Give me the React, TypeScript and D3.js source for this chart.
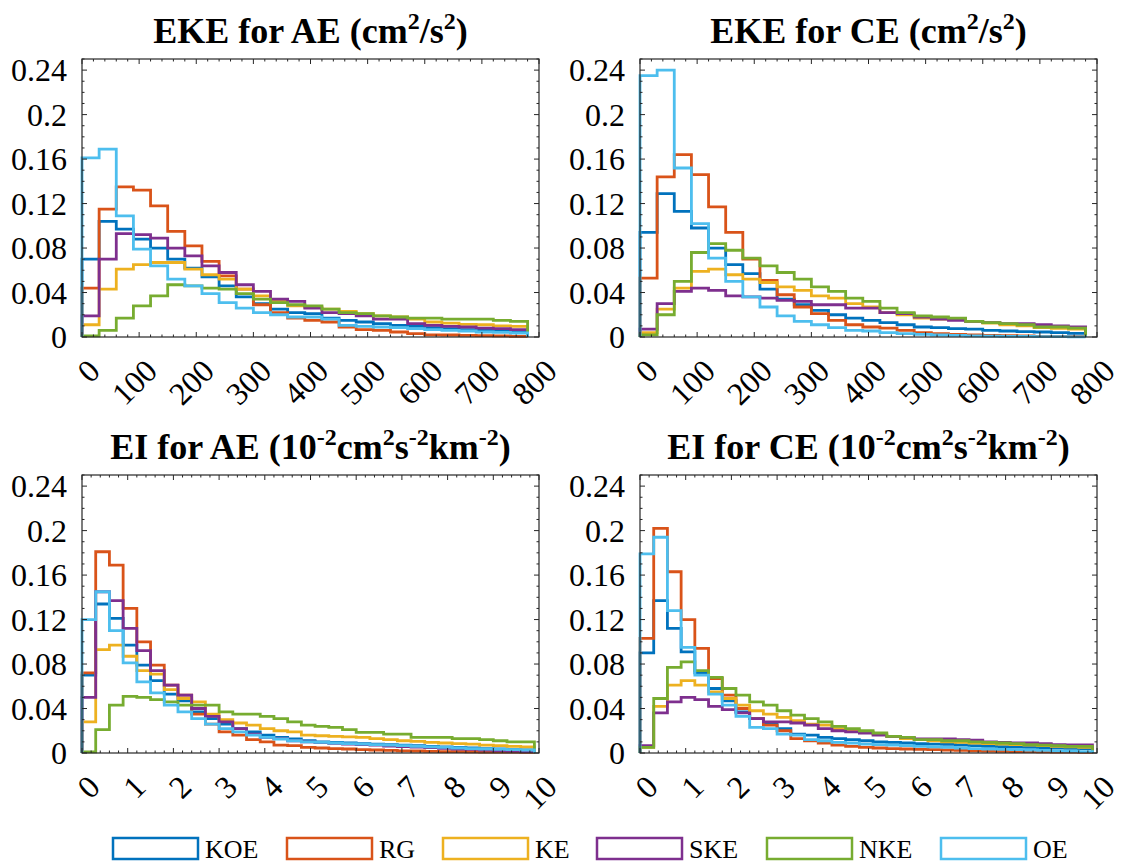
import React from 'react';
import * as d3 from 'd3';

const seriesNames = ['KOE', 'RG', 'KE', 'SKE', 'NKE', 'OE'];
const seriesColors = ['#0072BD', '#D95319', '#EDB120', '#7E2F8E', '#77AC30', '#4DBEEE'];

const ekeBinWidth = 30;
const eiBinWidth = 0.3;
const ekeXTicks = [0, 100, 200, 300, 400, 500, 600, 700, 800];
const eiXTicks = [0, 1, 2, 3, 4, 5, 6, 7, 8, 9, 10];
const yTicks = [0, 0.04, 0.08, 0.12, 0.16, 0.2, 0.24];
const yTickLabels = ['0', '0.04', '0.08', '0.12', '0.16', '0.2', '0.24'];

// EKE for AE (bins of 30 cm^2/s^2)
const ekeAE_KOE = [0.070, 0.104, 0.097, 0.088, 0.080, 0.070, 0.062, 0.054, 0.046, 0.036, 0.030, 0.025, 0.022, 0.021, 0.017, 0.015, 0.0135, 0.012, 0.0105, 0.0096, 0.0084, 0.0075, 0.0066, 0.006, 0.0054, 0.0045];
const ekeAE_RG = [0.044, 0.115, 0.135, 0.132, 0.118, 0.095, 0.082, 0.068, 0.055, 0.043, 0.029, 0.022, 0.017, 0.015, 0.0135, 0.009, 0.0066, 0.006, 0.0045, 0.003, 0.002, 0.0018, 0.0015, 0.0012, 0.001, 0.0006];
const ekeAE_KE = [0.011, 0.043, 0.061, 0.065, 0.067, 0.067, 0.061, 0.056, 0.052, 0.043, 0.037, 0.032, 0.028, 0.027, 0.025, 0.023, 0.021, 0.019, 0.018, 0.016, 0.0135, 0.0125, 0.0114, 0.011, 0.010, 0.0096];
const ekeAE_SKE = [0.019, 0.070, 0.093, 0.092, 0.089, 0.080, 0.073, 0.064, 0.058, 0.047, 0.041, 0.034, 0.032, 0.026, 0.022, 0.021, 0.019, 0.016, 0.016, 0.012, 0.0105, 0.0096, 0.009, 0.008, 0.0075, 0.0066];
const ekeAE_NKE = [0.001, 0.006, 0.017, 0.028, 0.037, 0.047, 0.046, 0.044, 0.043, 0.039, 0.034, 0.031, 0.029, 0.028, 0.025, 0.022, 0.021, 0.019, 0.018, 0.017, 0.017, 0.016, 0.016, 0.016, 0.015, 0.014];
const ekeAE_OE = [0.161, 0.169, 0.109, 0.079, 0.064, 0.052, 0.046, 0.039, 0.031, 0.026, 0.022, 0.020, 0.018, 0.018, 0.016, 0.0105, 0.0096, 0.009, 0.0084, 0.0075, 0.0066, 0.006, 0.0054, 0.0045, 0.0042, 0.0036];

// EKE for CE
const ekeCE_KOE = [0.094, 0.129, 0.113, 0.098, 0.080, 0.065, 0.057, 0.043, 0.034, 0.029, 0.024, 0.020, 0.017, 0.015, 0.013, 0.011, 0.009, 0.0084, 0.0075, 0.007, 0.006, 0.0054, 0.0048, 0.0045, 0.004, 0.0033];
const ekeCE_RG = [0.053, 0.144, 0.164, 0.146, 0.117, 0.094, 0.070, 0.051, 0.038, 0.027, 0.021, 0.015, 0.011, 0.009, 0.008, 0.006, 0.004, 0.003, 0.0024, 0.0018, 0.0015, 0.0012, 0.001, 0.0006, 0.0006, 0.0003];
const ekeCE_KE = [0.004, 0.025, 0.044, 0.059, 0.061, 0.056, 0.052, 0.049, 0.045, 0.042, 0.037, 0.035, 0.030, 0.027, 0.022, 0.020, 0.017, 0.016, 0.016, 0.014, 0.0126, 0.011, 0.010, 0.0084, 0.0078, 0.007];
const ekeCE_SKE = [0.007, 0.030, 0.041, 0.044, 0.042, 0.037, 0.036, 0.035, 0.033, 0.032, 0.029, 0.029, 0.026, 0.026, 0.022, 0.021, 0.018, 0.016, 0.015, 0.014, 0.013, 0.012, 0.012, 0.011, 0.010, 0.009];
const ekeCE_NKE = [0.002, 0.020, 0.050, 0.076, 0.084, 0.078, 0.071, 0.064, 0.058, 0.052, 0.045, 0.041, 0.035, 0.032, 0.026, 0.022, 0.019, 0.018, 0.017, 0.014, 0.013, 0.012, 0.011, 0.009, 0.009, 0.008];
const ekeCE_OE = [0.235, 0.240, 0.152, 0.102, 0.071, 0.050, 0.036, 0.027, 0.019, 0.014, 0.011, 0.0084, 0.006, 0.0054, 0.004, 0.003, 0.0024, 0.0018, 0.0015, 0.001, 0.0008, 0.0006, 0.0005, 0.0004, 0.0003, 0.0002];

// EI for AE (bins of 0.3)
const eiAE_KOE = [0.070, 0.134, 0.121, 0.097, 0.079, 0.065, 0.053, 0.047, 0.037, 0.031, 0.026, 0.022, 0.019, 0.016, 0.014, 0.0126, 0.011, 0.010, 0.0096, 0.009, 0.0084, 0.008, 0.0075, 0.007, 0.0066, 0.006, 0.0055, 0.005, 0.0045, 0.004, 0.0036, 0.003, 0.0027];
const eiAE_RG = [0.072, 0.181, 0.169, 0.130, 0.100, 0.079, 0.061, 0.052, 0.035, 0.026, 0.019, 0.016, 0.012, 0.010, 0.007, 0.0066, 0.005, 0.0045, 0.004, 0.0036, 0.003, 0.0027, 0.0024, 0.002, 0.0018, 0.0015, 0.0013, 0.0012, 0.001, 0.0009, 0.0008, 0.0007, 0.0006];
const eiAE_KE = [0.028, 0.093, 0.097, 0.087, 0.074, 0.071, 0.057, 0.049, 0.046, 0.035, 0.030, 0.027, 0.025, 0.022, 0.020, 0.019, 0.016, 0.0155, 0.015, 0.0145, 0.014, 0.013, 0.012, 0.011, 0.0105, 0.0096, 0.009, 0.0084, 0.008, 0.007, 0.0066, 0.006, 0.0054];
const eiAE_SKE = [0.050, 0.145, 0.137, 0.112, 0.092, 0.074, 0.061, 0.052, 0.040, 0.033, 0.028, 0.022, 0.017, 0.014, 0.013, 0.011, 0.010, 0.0093, 0.0087, 0.008, 0.0075, 0.007, 0.0063, 0.0057, 0.0052, 0.0048, 0.0042, 0.0036, 0.0032, 0.0027, 0.0022, 0.0018, 0.0012];
const eiAE_NKE = [0.001, 0.021, 0.043, 0.051, 0.050, 0.048, 0.046, 0.043, 0.043, 0.043, 0.037, 0.035, 0.035, 0.033, 0.031, 0.028, 0.025, 0.024, 0.023, 0.021, 0.0186, 0.0186, 0.017, 0.017, 0.014, 0.014, 0.014, 0.013, 0.013, 0.012, 0.011, 0.010, 0.010];
const eiAE_OE = [0.120, 0.145, 0.110, 0.081, 0.064, 0.054, 0.043, 0.037, 0.031, 0.026, 0.022, 0.019, 0.016, 0.014, 0.0126, 0.011, 0.010, 0.0096, 0.009, 0.0084, 0.008, 0.0075, 0.007, 0.0066, 0.006, 0.0055, 0.005, 0.0045, 0.004, 0.0036, 0.0033, 0.003, 0.0027];

// EI for CE
const eiCE_KOE = [0.090, 0.137, 0.112, 0.091, 0.072, 0.058, 0.047, 0.037, 0.031, 0.026, 0.022, 0.017, 0.016, 0.014, 0.013, 0.012, 0.011, 0.010, 0.0096, 0.009, 0.0084, 0.008, 0.0078, 0.0072, 0.0066, 0.006, 0.0057, 0.0054, 0.005, 0.0048, 0.0045, 0.0042, 0.004];
const eiCE_RG = [0.103, 0.202, 0.163, 0.120, 0.094, 0.067, 0.052, 0.040, 0.031, 0.025, 0.020, 0.013, 0.011, 0.009, 0.007, 0.006, 0.005, 0.0045, 0.004, 0.0036, 0.0033, 0.003, 0.0027, 0.0024, 0.002, 0.0018, 0.0015, 0.0013, 0.0012, 0.001, 0.0009, 0.0008, 0.0006];
const eiCE_KE = [0.005, 0.042, 0.061, 0.065, 0.061, 0.055, 0.049, 0.043, 0.038, 0.035, 0.032, 0.029, 0.026, 0.025, 0.022, 0.020, 0.019, 0.017, 0.015, 0.013, 0.012, 0.011, 0.010, 0.0096, 0.009, 0.0084, 0.008, 0.0075, 0.007, 0.0066, 0.006, 0.0055, 0.005];
const eiCE_SKE = [0.0066, 0.036, 0.046, 0.050, 0.048, 0.042, 0.039, 0.036, 0.031, 0.028, 0.028, 0.027, 0.025, 0.022, 0.020, 0.019, 0.018, 0.016, 0.015, 0.014, 0.0126, 0.0126, 0.0126, 0.012, 0.0115, 0.010, 0.0096, 0.009, 0.009, 0.0084, 0.0075, 0.0072, 0.0072];
const eiCE_NKE = [0.005, 0.049, 0.077, 0.082, 0.074, 0.068, 0.058, 0.052, 0.046, 0.043, 0.038, 0.034, 0.031, 0.028, 0.024, 0.022, 0.020, 0.018, 0.015, 0.014, 0.012, 0.012, 0.011, 0.011, 0.010, 0.0096, 0.009, 0.0084, 0.0075, 0.007, 0.0066, 0.006, 0.006];
const eiCE_OE = [0.179, 0.194, 0.128, 0.095, 0.070, 0.053, 0.043, 0.033, 0.023, 0.022, 0.017, 0.016, 0.012, 0.011, 0.0096, 0.009, 0.008, 0.0075, 0.007, 0.0066, 0.006, 0.0055, 0.005, 0.0045, 0.004, 0.0036, 0.0033, 0.003, 0.0027, 0.0024, 0.002, 0.0016, 0.0012];

const FONT = "'Liberation Serif', 'Times New Roman', Times, serif";
const AX = '#262626';

type TitlePart = { t: string; sup?: boolean };

const titleEkeAE: TitlePart[] = [{ t: 'EKE for AE (cm' }, { t: '2', sup: true }, { t: '/s' }, { t: '2', sup: true }, { t: ')' }];
const titleEkeCE: TitlePart[] = [{ t: 'EKE for CE (cm' }, { t: '2', sup: true }, { t: '/s' }, { t: '2', sup: true }, { t: ')' }];
const titleEiAE: TitlePart[] = [{ t: 'EI for AE (10' }, { t: '-2', sup: true }, { t: 'cm' }, { t: '2', sup: true }, { t: 's' }, { t: '-2', sup: true }, { t: 'km' }, { t: '-2', sup: true }, { t: ')' }];
const titleEiCE: TitlePart[] = [{ t: 'EI for CE (10' }, { t: '-2', sup: true }, { t: 'cm' }, { t: '2', sup: true }, { t: 's' }, { t: '-2', sup: true }, { t: 'km' }, { t: '-2', sup: true }, { t: ')' }];

type PanelProps = {
  left: number; top: number; width: number; height: number;
  xMax: number; xTicks: number[]; xMinor: number; binWidth: number;
  series: number[][]; title: TitlePart[];
};

function Title({ parts, x, y }: { parts: TitlePart[]; x: number; y: number }) {
  const supShift = 14;
  let up = false;
  return (
    <text x={x} y={y} textAnchor="middle" fontFamily={FONT} fontWeight="bold" fontSize={36} fill="#000">
      {parts.map((p, i) => {
        let dy = 0;
        if (p.sup && !up) { dy = -supShift; up = true; }
        else if (!p.sup && up) { dy = supShift; up = false; }
        return (
          <tspan key={i} dy={dy} fontSize={p.sup ? 24 : 36}>{p.t}</tspan>
        );
      })}
    </text>
  );
}

function Panel({ left, top, width, height, xMax, xTicks, xMinor, binWidth, series, title }: PanelProps) {
  const x = d3.scaleLinear().domain([0, xMax]).range([left, left + width]);
  const y = d3.scaleLinear().domain([0, 0.25]).range([top + height, top]);
  const line = d3.line<[number, number]>().x(d => x(d[0])).y(d => y(d[1]));

  const stairs = (vals: number[]) => {
    const pts: [number, number][] = [[0, 0]];
    vals.forEach((v, i) => {
      pts.push([i * binWidth, v]);
      pts.push([(i + 1) * binWidth, v]);
    });
    pts.push([vals.length * binWidth, 0]);
    return line(pts) || '';
  };

  const xMinorTicks = d3.range(0, xMax + 1e-9, xMinor).filter(v => !xTicks.some(t => Math.abs(t - v) < 1e-9));
  const yMinorTicks = d3.range(0, 0.25 + 1e-9, 0.01).filter(v => !yTicks.some(t => Math.abs(t - v) < 1e-9));
  const bottom = top + height;
  const right = left + width;
  const maj = 5, mnr = 2.5;

  return (
    <g>
      <Title parts={title} x={left + width / 2} y={top - 16} />
      {series.map((vals, i) => (
        <path key={seriesNames[i]} d={stairs(vals)} fill="none" stroke={seriesColors[i]} strokeWidth={2.8} />
      ))}
      <rect x={left} y={top} width={width} height={height} fill="none" stroke={AX} strokeWidth={1.2} />
      {xTicks.map(t => (
        <g key={'xt' + t}>
          <line x1={x(t)} x2={x(t)} y1={bottom} y2={bottom - maj} stroke={AX} />
          <line x1={x(t)} x2={x(t)} y1={top} y2={top + maj} stroke={AX} />
        </g>
      ))}
      {xMinorTicks.map(t => (
        <g key={'xm' + t}>
          <line x1={x(t)} x2={x(t)} y1={bottom} y2={bottom - mnr} stroke={AX} />
          <line x1={x(t)} x2={x(t)} y1={top} y2={top + mnr} stroke={AX} />
        </g>
      ))}
      {yTicks.map(t => (
        <g key={'yt' + t}>
          <line x1={left} x2={left + maj} y1={y(t)} y2={y(t)} stroke={AX} />
          <line x1={right} x2={right - maj} y1={y(t)} y2={y(t)} stroke={AX} />
        </g>
      ))}
      {yMinorTicks.map(t => (
        <g key={'ym' + t}>
          <line x1={left} x2={left + mnr} y1={y(t)} y2={y(t)} stroke={AX} />
          <line x1={right} x2={right - mnr} y1={y(t)} y2={y(t)} stroke={AX} />
        </g>
      ))}
      {yTicks.map((t, i) => (
        <text key={'yl' + t} x={left - 15} y={y(t)} dy="0.35em" textAnchor="end" fontFamily={FONT} fontSize={32} fill="#000">
          {yTickLabels[i]}
        </text>
      ))}
      {xTicks.map(t => (
        <text key={'xl' + t} transform={`translate(${x(t) + 12},${bottom + 28}) rotate(-45)`} dy="0.35em" textAnchor="end" fontFamily={FONT} fontSize={32} fill="#000">
          {String(t)}
        </text>
      ))}
    </g>
  );
}

const legendBoxX = [113, 287, 443, 597, 767, 941];

export default function App() {
  const W = 1122, H = 863;
  const pw = 457, ph = 278;
  return (
    <svg width={W} height={H} style={{ position: 'absolute', left: 0, top: 0, background: '#fff' }}>
      <rect x={0} y={0} width={W} height={H} fill="#fff" />
      <Panel left={82} top={59} width={pw} height={ph} xMax={800} xTicks={ekeXTicks} xMinor={20} binWidth={ekeBinWidth}
        series={[ekeAE_KOE, ekeAE_RG, ekeAE_KE, ekeAE_SKE, ekeAE_NKE, ekeAE_OE]} title={titleEkeAE} />
      <Panel left={640} top={59} width={pw} height={ph} xMax={800} xTicks={ekeXTicks} xMinor={20} binWidth={ekeBinWidth}
        series={[ekeCE_KOE, ekeCE_RG, ekeCE_KE, ekeCE_SKE, ekeCE_NKE, ekeCE_OE]} title={titleEkeCE} />
      <Panel left={82} top={475} width={pw} height={ph} xMax={10} xTicks={eiXTicks} xMinor={0.2} binWidth={eiBinWidth}
        series={[eiAE_KOE, eiAE_RG, eiAE_KE, eiAE_SKE, eiAE_NKE, eiAE_OE]} title={titleEiAE} />
      <Panel left={640} top={475} width={pw} height={ph} xMax={10} xTicks={eiXTicks} xMinor={0.2} binWidth={eiBinWidth}
        series={[eiCE_KOE, eiCE_RG, eiCE_KE, eiCE_SKE, eiCE_NKE, eiCE_OE]} title={titleEiCE} />
      {seriesNames.map((n, i) => (
        <g key={n}>
          <rect x={legendBoxX[i]} y={838} width={85} height={21} fill="#fff" stroke={seriesColors[i]} strokeWidth={2.5} />
          <text x={legendBoxX[i] + 92} y={849} dy="0.35em" fontFamily={FONT} fontSize={26} fill="#000">{n}</text>
        </g>
      ))}
    </svg>
  );
}
